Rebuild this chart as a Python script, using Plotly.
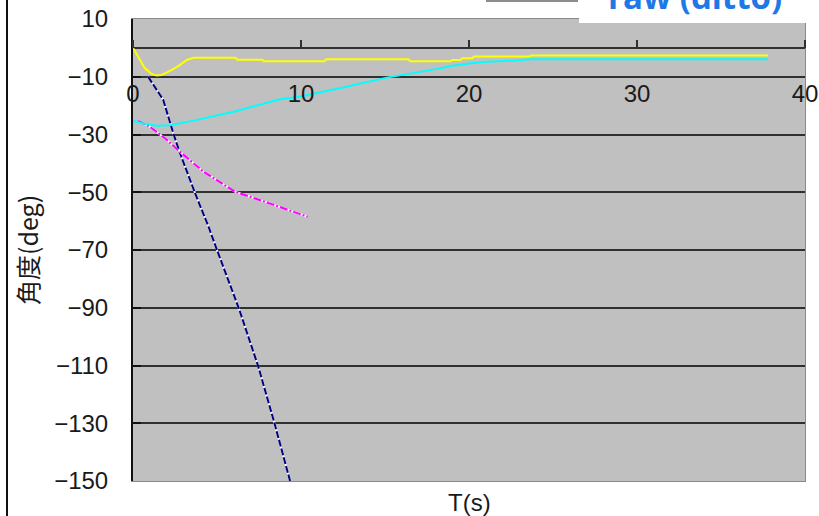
import plotly.graph_objects as go

# ---- data ----
yellow_t = [0, 0.3, 0.7, 1.1, 1.4, 1.7, 2.2, 2.7, 3.2, 3.6, 6.1, 6.2, 7.7, 7.8, 11.4, 11.5,
            16.4, 16.5, 18.9, 19.0, 19.5, 19.6, 20.2, 20.3, 23.6, 23.7, 37.8]
yellow_v = [0, -3, -7, -9.0, -9.6, -9.4, -8.0, -6.3, -4.2, -3.4, -3.4, -4.1, -4.1, -4.6, -4.6, -3.9,
            -3.9, -4.6, -4.6, -4.2, -4.2, -3.6, -3.6, -3.0, -3.0, -2.6, -2.6]

cyan_t = [0, 0.6, 1.4, 2.2, 3.6, 6.0, 8.75, 9.9, 12.3, 15.1, 18.3, 19.0, 20.1, 21.0, 22.8, 23.6, 37.8]
cyan_v = [-25.2, -26.2, -27.0, -26.8, -25.2, -22.1, -17.8, -16.9, -14.0, -10.3, -7.1, -6.2, -5.3,
          -4.8, -4.4, -3.9, -3.9]

magenta_t = [0.3, 1.0, 1.9, 2.8, 4.2, 6.07, 8.25, 10.4]
magenta_v = [-25.3, -27.3, -31.3, -36.0, -42.9, -49.8, -54.1, -58.5]

navy_t = [0.9, 1.8, 2.4, 2.8, 3.7, 4.5, 5.0, 6.3, 7.46, 8.45, 9.35]
navy_v = [-10, -18, -29.6, -36.5, -50.4, -62, -70, -90.2, -110.4, -130.6, -150]

x_ticks = [0, 10, 20, 30, 40]
y_ticks = [10, -10, -30, -50, -70, -90, -110, -130, -150]
y_grid = [0, -10, -30, -50, -70, -90, -110, -130]

x_title = "T(s)"
y_title = "角度(deg)"
overlay_text = "raw (ditto)"

XR = [0, 40]
YR = [-150, 10]

LABEL_FONT = dict(family="Liberation Sans, Arial, sans-serif", size=24, color="#1a1a1a")

fig = go.Figure()

# empty helper traces so the overlay axes (grid / tick / label axes) get drawn
fig.add_trace(go.Scatter(x=[None], y=[None], xaxis="x2", yaxis="y2", mode="lines",
                         showlegend=False, hoverinfo="skip"))
fig.add_trace(go.Scatter(x=[None], y=[None], xaxis="x3", yaxis="y", mode="lines",
                         showlegend=False, hoverinfo="skip"))

# white under-strokes so gaps of the dashed lines look white like the reference
fig.add_trace(go.Scatter(x=navy_t, y=navy_v, mode="lines", showlegend=False, hoverinfo="skip",
                         line=dict(color="white", width=2)))
fig.add_trace(go.Scatter(x=navy_t, y=navy_v, mode="lines", name="navy",
                         line=dict(color="#000080", width=2, dash="7px,2px")))
fig.add_trace(go.Scatter(x=magenta_t, y=magenta_v, mode="lines", showlegend=False, hoverinfo="skip",
                         line=dict(color="white", width=2)))
fig.add_trace(go.Scatter(x=magenta_t, y=magenta_v, mode="lines", name="magenta",
                         line=dict(color="#FF00FF", width=2, dash="8px,2px,2px,2px")))
fig.add_trace(go.Scatter(x=cyan_t, y=cyan_v, mode="lines", name="cyan",
                         line=dict(color="#00FFFF", width=2)))
fig.add_trace(go.Scatter(x=yellow_t, y=yellow_v, mode="lines", name="yellow",
                         line=dict(color="#FFFF00", width=2)))

W, H = 819, 516
ML, MR, MT, MB = 133, 14, 19, 35
PW, PH = W - ML - MR, H - MT - MB


def px_x(p):
    return (p - ML) / PW


def px_y(p):
    return (H - MB - p) / PH


zero_pos = (0 - YR[0]) / (YR[1] - YR[0])
m10_pos = (-10 - YR[0]) / (YR[1] - YR[0])

fig.update_layout(
    width=W, height=H,
    margin=dict(l=ML, r=MR, t=MT, b=MB, pad=0, autoexpand=False),
    paper_bgcolor="white",
    plot_bgcolor="#C0C0C0",
    showlegend=False,
    xaxis=dict(range=XR, showgrid=False, zeroline=False, showline=True, linecolor="#8a8a8a",
               linewidth=1, mirror=True, ticks="", showticklabels=False, fixedrange=True),
    xaxis2=dict(range=XR, overlaying="x", anchor="free", position=zero_pos, side="top",
                showgrid=False, zeroline=False, showline=False, ticks="outside",
                tickvals=x_ticks, ticklen=8, tickwidth=2, tickcolor="#303030",
                showticklabels=False, fixedrange=True),
    xaxis3=dict(range=XR, overlaying="x", anchor="free", position=m10_pos, side="bottom",
                showgrid=False, zeroline=False, showline=False, ticks="",
                tickvals=x_ticks, showticklabels=True, tickfont=LABEL_FONT, fixedrange=True),
    yaxis=dict(range=YR, showgrid=False, zeroline=False, showline=True, linecolor="#111111",
               linewidth=2, ticks="inside", ticklen=8, tickwidth=2, tickcolor="#111111",
               tickvals=y_ticks, tickfont=LABEL_FONT, ticklabelstandoff=18, fixedrange=True),
    yaxis2=dict(range=YR, overlaying="y", side="right", anchor="x", showgrid=True,
                gridcolor="#303030", gridwidth=2, tickvals=y_grid, showticklabels=False,
                ticks="", zeroline=False, showline=True, linecolor="#8a8a8a", linewidth=1,
                fixedrange=True),
)

# titles
fig.add_annotation(text=x_title, xref="paper", yref="paper", x=0.5, y=px_y(502),
                   xanchor="center", yanchor="middle", showarrow=False,
                   font=dict(family="Liberation Sans, Arial, sans-serif", size=24, color="#1a1a1a"))
fig.add_annotation(text=y_title, xref="paper", yref="paper", x=px_x(27), y=0.5,
                   xanchor="center", yanchor="middle", showarrow=False, textangle=-90,
                   font=dict(family="Noto Sans CJK JP, sans-serif", size=25, color="#1a1a1a"))

# outer chart frame line on the left
fig.add_shape(type="line", xref="paper", yref="paper", x0=px_x(7), x1=px_x(7),
              y0=px_y(520), y1=px_y(-5), line=dict(color="#111111", width=2))
# overlapping white box and its edge at the top right
fig.add_shape(type="rect", xref="paper", yref="paper", x0=px_x(579), x1=px_x(822),
              y0=px_y(23), y1=px_y(-5), line=dict(width=0), fillcolor="white", layer="above")
fig.add_shape(type="line", xref="paper", yref="paper", x0=px_x(486), x1=px_x(578),
              y0=px_y(1), y1=px_y(1), line=dict(color="#666666", width=1.5))
fig.add_annotation(text="<b>" + overlay_text + "</b>", xref="paper", yref="paper",
                   x=px_x(606), y=px_y(21), xanchor="left", yanchor="bottom", showarrow=False,
                   font=dict(family="Open Sans, sans-serif", size=33, color="#1E78E6"))

# remove the default page margin so the figure sits at the window's top-left corner
fig.write_html("out.html", config={"displayModeBar": False},
               post_script="document.body.style.margin='0px';document.body.style.overflow='hidden';")
